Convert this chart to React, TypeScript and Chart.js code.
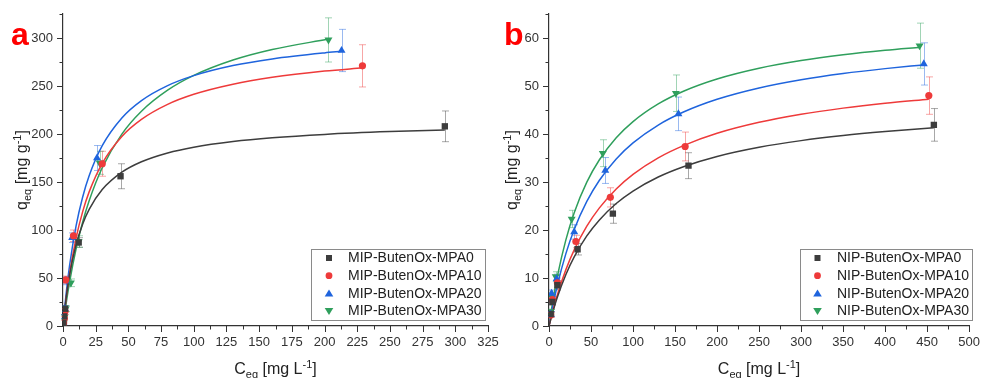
import React, { useEffect, useRef } from 'react';
import { Chart, registerables } from 'chart.js';

Chart.register(...registerables);

const FONT = '"Liberation Sans", Arial, Helvetica, sans-serif';

const SERIES_COLORS = ['#3d3d3d', '#ee3a3a', '#1f64dd', '#2f9f5c'];
const ERROR_COLORS = ['rgba(61,61,61,0.45)', 'rgba(238,58,58,0.45)', 'rgba(31,100,221,0.45)', 'rgba(47,159,92,0.45)'];
const POINT_STYLES = ['rect', 'circle', 'triangle', 'triangle'];
const POINT_ROTATIONS = [0, 0, 0, 180];
const POINT_RADII = [4.5, 3.6, 4.6, 4.6];

// ---------- Panel a : MIP ----------
const mipLabels = ['MIP-ButenOx-MPA0', 'MIP-ButenOx-MPA10', 'MIP-ButenOx-MPA20', 'MIP-ButenOx-MPA30'];

const mipCeq0 = [0.3, 0.8, 1.5, 12, 44, 292];
const mipQ0 = [3, 10, 18, 87, 156, 208];
const mipErr0 = [1, 2, 3, 5, 13, 16];

const mipCeq10 = [0.5, 1, 1.5, 2, 8, 30, 229];
const mipQ10 = [3, 8, 15, 48, 94, 169, 271];
const mipErr10 = [1, 2, 3, 4, 6, 13, 22];

const mipCeq20 = [0.3, 0.8, 1.5, 2, 7, 26, 213];
const mipQ20 = [4, 10, 18, 47, 92, 175, 287];
const mipErr20 = [1, 2, 3, 4, 5, 13, 22];

const mipCeq30 = [0.5, 1, 2, 6, 12, 28, 203];
const mipQ30 = [3, 9, 18, 45, 88, 170, 298];
const mipErr30 = [1, 2, 3, 4, 6, 12, 23];

const fitA0X = [0, 2, 5, 10, 15, 20, 30, 45, 60, 80, 100, 130, 160, 200, 250, 292];
const fitA0Y = [0, 24.7, 52.7, 84.7, 106.1, 121.5, 142.1, 160.2, 171.1, 180.3, 186.3, 192.2, 196.1, 199.6, 202.5, 204.2];
const fitA10X = [0, 2, 5, 10, 15, 20, 30, 45, 60, 80, 100, 130, 160, 200, 229];
const fitA10Y = [0, 24.4, 54.2, 91.6, 118.9, 139.7, 169.5, 197.5, 215.3, 230.9, 241.4, 251.9, 259.0, 265.5, 268.9];
const fitA20X = [0, 2, 5, 10, 15, 20, 30, 45, 60, 80, 100, 130, 160, 200, 213];
const fitA20Y = [0, 28.5, 62.6, 104.3, 134.1, 156.5, 187.8, 216.7, 234.8, 250.4, 260.8, 271.3, 278.2, 284.5, 286.1];
const fitA30X = [0, 2, 5, 10, 15, 20, 30, 45, 60, 80, 100, 130, 160, 203];
const fitA30Y = [0, 19.7, 45.4, 80.3, 108.0, 130.5, 164.8, 199.9, 223.7, 245.6, 261.0, 277.0, 288.0, 298.9];

// ---------- Panel b : NIP ----------
const nipLabels = ['NIP-ButenOx-MPA0', 'NIP-ButenOx-MPA10', 'NIP-ButenOx-MPA20', 'NIP-ButenOx-MPA30'];

const nipCeq0 = [2, 4, 10, 34, 76, 166, 458];
const nipQ0 = [2.5, 5, 8.5, 16, 23.4, 33.4, 41.9];
const nipErr0 = [0.5, 0.6, 1, 1.2, 2, 2.7, 3.4];

const nipCeq10 = [2, 4, 10, 32, 73, 162, 452];
const nipQ10 = [2.3, 5.5, 9, 17.6, 26.8, 37.4, 48];
const nipErr10 = [0.5, 0.6, 1, 1.3, 2, 3, 3.9];

const nipCeq20 = [2, 3, 9, 30, 67, 154, 446];
const nipQ20 = [2.5, 6.8, 9.8, 19.6, 32.4, 44.2, 54.6];
const nipErr20 = [0.5, 0.7, 1, 1.5, 2.7, 3.5, 4.4];

const nipCeq30 = [2, 3, 8, 27, 64, 151, 441];
const nipQ30 = [3, 6.2, 10.3, 22.3, 36, 48.5, 58.4];
const nipErr30 = [0.5, 0.7, 1, 1.8, 2.8, 3.8, 4.7];

const fitB0X = [0, 5, 10, 20, 30, 45, 60, 80, 100, 130, 160, 200, 250, 300, 350, 400, 458];
const fitB0Y = [0, 3.21, 6.02, 10.68, 14.4, 18.76, 22.1, 25.51, 28.11, 31.04, 33.19, 35.32, 37.23, 38.62, 39.68, 40.51, 41.3];
const fitB10X = [0, 5, 10, 20, 30, 45, 60, 80, 100, 130, 160, 200, 250, 300, 350, 400, 452];
const fitB10Y = [0, 3.48, 6.54, 11.69, 15.85, 20.79, 24.61, 28.56, 31.6, 35.04, 37.59, 40.14, 42.43, 44.11, 45.39, 46.41, 47.26];
const fitB20X = [0, 5, 10, 20, 30, 45, 60, 80, 100, 130, 160, 200, 250, 300, 350, 400, 446];
const fitB20Y = [0, 4.59, 8.55, 15.03, 20.11, 25.95, 30.37, 34.81, 38.15, 41.87, 44.58, 47.24, 49.6, 51.31, 52.61, 53.62, 54.4];
const fitB30X = [0, 5, 10, 20, 30, 45, 60, 80, 100, 130, 160, 200, 250, 300, 350, 400, 442];
const fitB30Y = [0, 5.64, 10.38, 17.9, 23.6, 29.96, 34.63, 39.21, 42.59, 46.27, 48.91, 51.46, 53.7, 55.3, 56.5, 57.44, 58.08];

type Part = { t: string; size: number; dy: number };

const xTitleParts: Part[] = [
  { t: 'C', size: 16, dy: 0 },
  { t: 'eq', size: 11, dy: 4 },
  { t: ' [mg L', size: 16, dy: 0 },
  { t: '-1', size: 11, dy: -6.5 },
  { t: ']', size: 16, dy: 0 },
];
const yTitleParts: Part[] = [
  { t: 'q', size: 16, dy: 0 },
  { t: 'eq', size: 11, dy: 4 },
  { t: ' [mg g', size: 16, dy: 0 },
  { t: '-1', size: 11, dy: -6.5 },
  { t: ']', size: 16, dy: 0 },
];

function drawRich(ctx: CanvasRenderingContext2D, parts: Part[], cx: number, baseline: number) {
  let total = 0;
  const widths = parts.map((p) => {
    ctx.font = `${p.size}px ${FONT}`;
    const w = ctx.measureText(p.t).width;
    total += w;
    return w;
  });
  let x = cx - total / 2;
  ctx.textAlign = 'left';
  ctx.textBaseline = 'alphabetic';
  parts.forEach((p, i) => {
    ctx.font = `${p.size}px ${FONT}`;
    ctx.fillText(p.t, x, baseline + p.dy);
    x += widths[i];
  });
}

function isMajor(v: number, step: number) {
  const r = v / step;
  return Math.abs(r - Math.round(r)) < 1e-6;
}

function drawMarker(ctx: CanvasRenderingContext2D, idx: number, x: number, y: number) {
  ctx.fillStyle = SERIES_COLORS[idx];
  ctx.beginPath();
  if (idx === 0) {
    ctx.rect(x - 3, y - 3, 6, 6);
  } else if (idx === 1) {
    ctx.arc(x, y, 3.4, 0, Math.PI * 2);
  } else if (idx === 2) {
    ctx.moveTo(x, y - 4);
    ctx.lineTo(x + 4.3, y + 3.2);
    ctx.lineTo(x - 4.3, y + 3.2);
    ctx.closePath();
  } else {
    ctx.moveTo(x, y + 4);
    ctx.lineTo(x + 4.3, y - 3.2);
    ctx.lineTo(x - 4.3, y - 3.2);
    ctx.closePath();
  }
  ctx.fill();
}

type PanelProps = {
  letter: string;
  letterX: number;
  labels: string[];
  xs: number[][];
  ys: number[][];
  errs: number[][];
  fitXs: number[][];
  fitYs: number[][];
  xMax: number;
  xStep: number;
  xMajor: number;
  yMax: number;
  yStep: number;
  yMajor: number;
  axisLeft: number;
  padRight: number;
  yTitleBaseline: number;
  legend: { left: number; right: number; top: number; bottom: number; markerX: number; textX: number; rowY: number; rowGap: number };
};

function Panel(p: PanelProps) {
  const ref = useRef<HTMLCanvasElement>(null);

  useEffect(() => {
    const canvas = ref.current;
    if (!canvas) return;

    const datasets: any[] = [];
    p.xs.forEach((xs, i) => {
      datasets.push({
        label: p.labels[i],
        data: xs.map((x, j) => ({ x, y: p.ys[i][j] })),
        errorBars: p.errs[i],
        errorColor: ERROR_COLORS[i],
        showLine: false,
        pointStyle: POINT_STYLES[i],
        rotation: POINT_ROTATIONS[i],
        pointRadius: POINT_RADII[i],
        backgroundColor: SERIES_COLORS[i],
        borderColor: SERIES_COLORS[i],
        borderWidth: 0,
        order: 1,
      });
    });
    p.fitXs.forEach((xs, i) => {
      datasets.push({
        label: p.labels[i] + ' fit',
        data: xs.map((x, j) => ({ x, y: p.fitYs[i][j] })),
        showLine: true,
        pointRadius: 0,
        borderColor: SERIES_COLORS[i],
        backgroundColor: SERIES_COLORS[i],
        borderWidth: 1.5,
        cubicInterpolationMode: 'monotone',
        fill: false,
        order: 2,
      });
    });

    const overlay = {
      id: 'overlay',
      beforeDatasetsDraw(chart: any) {
        const ctx = chart.ctx as CanvasRenderingContext2D;
        const xs = chart.scales.x;
        const ys = chart.scales.y;
        ctx.save();
        chart.data.datasets.forEach((ds: any) => {
          if (!ds.errorBars) return;
          ctx.strokeStyle = ds.errorColor;
          ctx.lineWidth = 1;
          ds.data.forEach((pt: any, j: number) => {
            const e = ds.errorBars[j];
            const px = Math.round(xs.getPixelForValue(pt.x)) + 0.5;
            const yt = ys.getPixelForValue(pt.y + e);
            const yb = ys.getPixelForValue(pt.y - e);
            if (Math.abs(yb - yt) < 3) return;
            ctx.beginPath();
            ctx.moveTo(px, yt);
            ctx.lineTo(px, yb);
            ctx.moveTo(px - 3.5, yt);
            ctx.lineTo(px + 3.5, yt);
            ctx.moveTo(px - 3.5, yb);
            ctx.lineTo(px + 3.5, yb);
            ctx.stroke();
          });
        });
        ctx.restore();
      },
      afterDraw(chart: any) {
        const ctx = chart.ctx as CanvasRenderingContext2D;
        const area = chart.chartArea;
        const xs = chart.scales.x;
        const ys = chart.scales.y;
        ctx.save();
        // tick marks
        ctx.strokeStyle = '#333';
        ctx.lineWidth = 1;
        xs.ticks.forEach((t: any) => {
          const len = isMajor(t.value, p.xMajor) ? 6 : 3.5;
          const px = Math.round(xs.getPixelForValue(t.value)) + 0.5;
          ctx.beginPath();
          ctx.moveTo(px, area.bottom);
          ctx.lineTo(px, area.bottom + len);
          ctx.stroke();
        });
        ys.ticks.forEach((t: any) => {
          const len = isMajor(t.value, p.yMajor) ? 6 : 3.5;
          const py = Math.round(ys.getPixelForValue(t.value)) + 0.5;
          ctx.beginPath();
          ctx.moveTo(area.left, py);
          ctx.lineTo(area.left - len, py);
          ctx.stroke();
        });

        // axis titles
        ctx.fillStyle = '#222';
        drawRich(ctx, xTitleParts, (area.left + area.right) / 2, 374);
        ctx.save();
        ctx.translate(p.yTitleBaseline, (area.top + area.bottom) / 2);
        ctx.rotate(-Math.PI / 2);
        drawRich(ctx, yTitleParts, 0, 0);
        ctx.restore();

        // panel letter
        ctx.fillStyle = '#ff0000';
        ctx.font = `bold 32px ${FONT}`;
        ctx.textAlign = 'left';
        ctx.textBaseline = 'alphabetic';
        ctx.fillText(p.letter, p.letterX, 45);

        // legend
        const L = p.legend;
        ctx.fillStyle = '#ffffff';
        ctx.fillRect(L.left, L.top, L.right - L.left, L.bottom - L.top);
        ctx.strokeStyle = '#8a8a8a';
        ctx.lineWidth = 1;
        ctx.strokeRect(L.left + 0.5, L.top + 0.5, L.right - L.left, L.bottom - L.top);
        p.labels.forEach((lab, i) => {
          const y = L.rowY + i * L.rowGap;
          drawMarker(ctx, i, L.markerX, y);
          ctx.fillStyle = '#222';
          ctx.font = `14px ${FONT}`;
          ctx.textAlign = 'left';
          ctx.textBaseline = 'middle';
          ctx.fillText(lab, L.textX, y + 0.5);
        });
        ctx.restore();
      },
    };

    const tickFont = { family: FONT, size: 13 };

    const chart = new Chart(canvas, {
      type: 'scatter',
      data: { datasets },
      options: {
        animation: false,
        responsive: false,
        devicePixelRatio: 1,
        events: [],
        layout: { padding: { left: 0, top: 14, right: p.padRight, bottom: 0 } },
        plugins: { legend: { display: false }, tooltip: { enabled: false }, title: { display: false } },
        scales: {
          x: {
            type: 'linear',
            min: 0,
            max: p.xMax,
            ticks: {
              stepSize: p.xStep,
              autoSkip: false,
              maxRotation: 0,
              minRotation: 0,
              padding: 3,
              color: '#333',
              font: tickFont,
              callback: (v: any) => (isMajor(Number(v), p.xMajor) ? String(v) : ''),
            },
            grid: { display: true, drawOnChartArea: false, drawTicks: true, tickLength: 6, color: 'rgba(0,0,0,0)' },
            border: { display: true, color: '#333', width: 1.2 },
            afterFit: (s: any) => {
              s.height = 52;
            },
          },
          y: {
            type: 'linear',
            min: 0,
            max: p.yMax,
            ticks: {
              stepSize: p.yStep,
              autoSkip: false,
              padding: 4,
              color: '#333',
              font: tickFont,
              callback: (v: any) => (isMajor(Number(v), p.yMajor) ? String(v) : ''),
            },
            grid: { display: true, drawOnChartArea: false, drawTicks: true, tickLength: 6, color: 'rgba(0,0,0,0)' },
            border: { display: true, color: '#333', width: 1.2 },
            afterFit: (s: any) => {
              s.width = p.axisLeft;
            },
          },
        },
      } as any,
      plugins: [overlay],
    });

    return () => chart.destroy();
  }, []);

  return (
    <canvas
      ref={ref}
      width={983}
      height={378}
      style={{ position: 'absolute', left: 0, top: 0, width: 983, height: 378 }}
    />
  );
}

export default function App() {
  return (
    <div style={{ position: 'absolute', left: 0, top: 0, width: 983, height: 378, background: '#ffffff' }}>
      <Panel
        letter="a"
        letterX={11}
        labels={mipLabels}
        xs={[mipCeq0, mipCeq10, mipCeq20, mipCeq30]}
        ys={[mipQ0, mipQ10, mipQ20, mipQ30]}
        errs={[mipErr0, mipErr10, mipErr20, mipErr30]}
        fitXs={[fitA0X, fitA10X, fitA20X, fitA30X]}
        fitYs={[fitA0Y, fitA10Y, fitA20Y, fitA30Y]}
        xMax={325}
        xStep={12.5}
        xMajor={25}
        yMax={325}
        yStep={25}
        yMajor={50}
        axisLeft={63}
        padRight={495}
        yTitleBaseline={27}
        legend={{ left: 311, right: 485, top: 249, bottom: 320, markerX: 329, textX: 348, rowY: 258, rowGap: 17.7 }}
      />
      <Panel
        letter="b"
        letterX={504}
        labels={nipLabels}
        xs={[nipCeq0, nipCeq10, nipCeq20, nipCeq30]}
        ys={[nipQ0, nipQ10, nipQ20, nipQ30]}
        errs={[nipErr0, nipErr10, nipErr20, nipErr30]}
        fitXs={[fitB0X, fitB10X, fitB20X, fitB30X]}
        fitYs={[fitB0Y, fitB10Y, fitB20Y, fitB30Y]}
        xMax={500}
        xStep={25}
        xMajor={50}
        yMax={65}
        yStep={5}
        yMajor={10}
        axisLeft={549}
        padRight={10}
        yTitleBaseline={517}
        legend={{ left: 800, right: 972, top: 249, bottom: 320, markerX: 817.5, textX: 837, rowY: 258, rowGap: 17.7 }}
      />
    </div>
  );
}
